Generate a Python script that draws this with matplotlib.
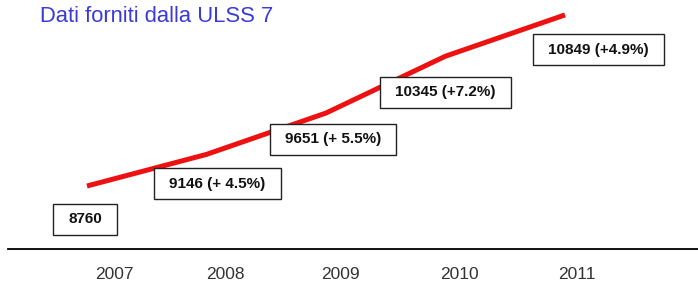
import matplotlib.pyplot as plt
from matplotlib.font_manager import FontProperties

years = ['2007', '2008', '2009', '2010', '2011']
values = [8760, 9146, 9651, 10345, 10849]
labels = ['8760', '9146 (+ 4.5%)', '9651 (+ 5.5%)', '10345 (+7.2%)', '10849 (+4.9%)']
# label offsets from the point, in points
offsets = [(-1.5, -24), (8, -21), (5, -19), (0, -26), (24, -25)]
tick_shift = [0.23, 0.16, 0.12, 0.12, 0.10]

boxfont = FontProperties(family='Liberation Sans', weight='bold', size=11)

fig = plt.figure(figsize=(6.98, 2.86), dpi=100)
ax = fig.add_axes([8 / 698, 37 / 286, 690 / 698, 249 / 286])

x = list(range(len(years)))
ax.plot(x, values, color='#ee1111', lw=3.6, solid_capstyle='butt', solid_joinstyle='round')

for xi, v, lab, off in zip(x, values, labels, offsets):
    ax.annotate(lab, (xi, v), xytext=off, textcoords='offset points',
                ha='center', va='center', fontproperties=boxfont, color='#111111',
                bbox=dict(boxstyle='square,pad=1.0', fc='white', ec='#222222',
                          lw=1.0, mutation_aspect=0.55))

ax.set_xlim(-0.661, 5.113)
ax.set_ylim(7991, 11031)
ax.set_xticks([i + s for i, s in zip(x, tick_shift)])
ax.set_xticklabels(years, fontsize=12.5, color='#333333', family='Liberation Sans')
ax.tick_params(axis='x', length=0, pad=13)
ax.set_yticks([])
for s in ['top', 'left', 'right']:
    ax.spines[s].set_visible(False)
ax.spines['bottom'].set_linewidth(1.3)

fig.text(40 / 698, 1 - 17 / 286, 'Dati forniti dalla ULSS 7', color='#3a3ad6',
         fontsize=15.8, family='Liberation Sans', va='center', ha='left')

fig.savefig('out.png', dpi=100)
